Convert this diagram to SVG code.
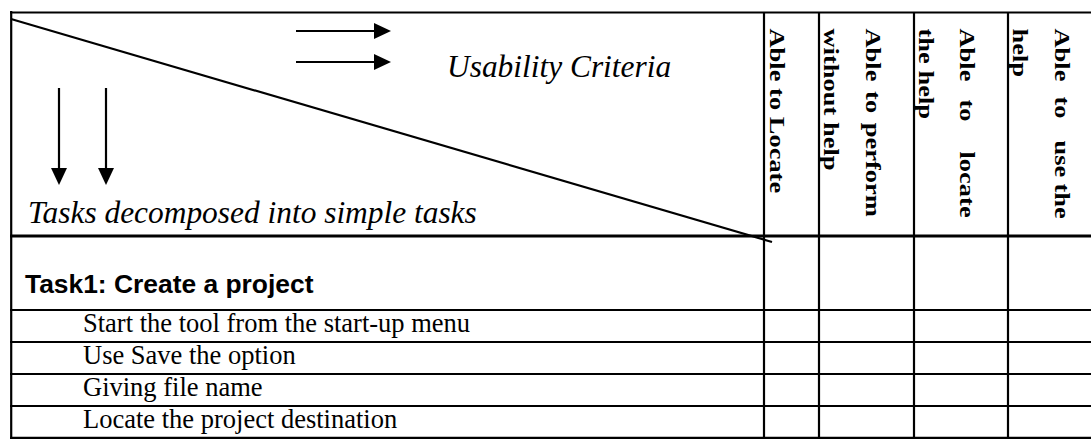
<svg xmlns="http://www.w3.org/2000/svg" width="1091" height="439" viewBox="0 0 1091 439">
  <style>
    .rule { stroke: #000; fill: none; }
    .thin { stroke-width: 2.2; }
    .thick { stroke-width: 3.2; }
    .arrow { stroke: #000; stroke-width: 2.2; fill: none; marker-end: url(#head); }
    .axis { font-family: "Liberation Serif", "Times New Roman", serif; font-style: italic; font-size: 31.4px; fill: #000; }
    .crit { font-family: "Liberation Serif", "Times New Roman", serif; font-weight: bold; font-size: 26.5px; fill: #000; }
    .task { font-family: "Liberation Sans", Arial, sans-serif; font-weight: bold; font-size: 26.4px; fill: #000; }
    .step { font-family: "Liberation Serif", "Times New Roman", serif; font-size: 26.5px; fill: #000; }
  </style>
  <defs>
    <marker id="head" markerUnits="userSpaceOnUse" markerWidth="17" markerHeight="16" refX="4" refY="8" orient="auto">
      <path d="M0,0 L17,8 L0,16 Z" fill="#000"/>
    </marker>
  </defs>

  <rect width="1091" height="439" fill="#fff"/>

  <!-- table rules -->
  <g id="grid" class="rule">
    <line class="thin" x1="10" y1="12.5" x2="1091" y2="12.5" stroke-width="2.5"/>
    <line class="thin" x1="11.2" y1="11" x2="11.2" y2="438.5" stroke-width="2.5"/>
    <line class="thick" x1="10" y1="236" x2="1091" y2="236"/>
    <line class="thin" x1="10" y1="310" x2="1091" y2="310"/>
    <line class="thin" x1="10" y1="342" x2="1091" y2="342"/>
    <line class="thin" x1="10" y1="374" x2="1091" y2="374"/>
    <line class="thin" x1="10" y1="406" x2="1091" y2="406"/>
    <line class="thin" x1="10" y1="437.8" x2="1091" y2="437.8"/>
    <line class="thin" x1="764" y1="12" x2="764" y2="439"/>
    <line class="thin" x1="819" y1="12" x2="819" y2="439" stroke-width="2.8"/>
    <line class="thin" x1="914" y1="12" x2="914" y2="439"/>
    <line class="thin" x1="1008" y1="12" x2="1008" y2="439"/>
    <!-- corner split of the header cell -->
    <line class="thin" x1="11" y1="19" x2="772" y2="242" stroke-width="2.4"/>
  </g>

  <!-- direction arrows -->
  <g id="connectors">
    <line class="arrow" x1="296" y1="31" x2="378" y2="31"/>
    <line class="arrow" x1="296" y1="62" x2="378" y2="62"/>
    <line class="arrow" x1="59" y1="88" x2="59" y2="172"/>
    <line class="arrow" x1="106" y1="88" x2="106" y2="172"/>
  </g>

  <!-- corner header labels -->
  <g id="axis-criteria">
    <text class="axis" x="447" y="77">Usability Criteria</text>
  </g>
  <g id="axis-tasks">
    <text class="axis" x="28" y="223">Tasks decomposed into simple tasks</text>
  </g>

  <!-- criteria column headings, written top to bottom -->
  <g id="crit-locate">
    <text class="crit" transform="translate(770,28.5) rotate(90) scale(1,0.77)">Able to Locate</text>
  </g>
  <g id="crit-perform">
    <text class="crit" transform="translate(866,28.5) rotate(90) scale(1,0.77)"><tspan x="0">Able</tspan><tspan x="62.6">to</tspan><tspan x="94.3">perform</tspan></text>
    <text class="crit" transform="translate(823.5,28.5) rotate(90) scale(1,0.77)">without help</text>
  </g>
  <g id="crit-locate-help">
    <text class="crit" transform="translate(960,28.5) rotate(90) scale(1,0.77)"><tspan x="0">Able</tspan><tspan x="71">to</tspan><tspan x="123">locate</tspan></text>
    <text class="crit" transform="translate(918.5,28.5) rotate(90) scale(1,0.77)">the help</text>
  </g>
  <g id="crit-use-help">
    <text class="crit" transform="translate(1055,28.5) rotate(90) scale(1,0.77)"><tspan x="0">Able</tspan><tspan x="68">to</tspan><tspan x="112">use</tspan><tspan x="155">the</tspan></text>
    <text class="crit" transform="translate(1012.7,28.5) rotate(90) scale(1,0.77)">help</text>
  </g>

  <!-- task rows -->
  <g id="task1">
    <text class="task" x="25" y="293">Task1: Create a project</text>
  </g>
  <g id="step-start">
    <text class="step" x="83" y="332">Start the tool from the start-up menu</text>
  </g>
  <g id="step-save">
    <text class="step" x="83" y="364">Use Save the option</text>
  </g>
  <g id="step-name">
    <text class="step" x="83" y="396">Giving file name</text>
  </g>
  <g id="step-destination">
    <text class="step" x="83" y="428">Locate the project destination</text>
  </g>
</svg>
